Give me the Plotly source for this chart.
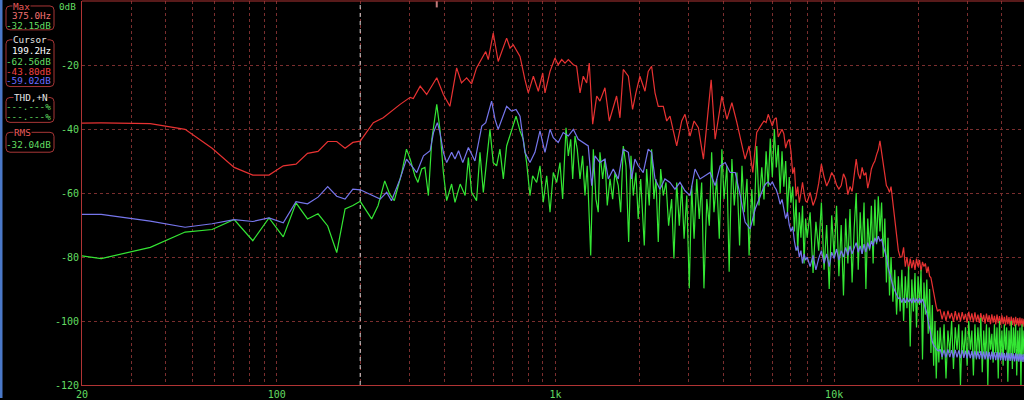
import math
import plotly.graph_objects as go

# ---------------- data ----------------
# Low/mid frequency vertices of each trace (Hz, dB)
red_lo_f = [11.72, 23.44, 35.16, 46.88, 58.59, 70.31, 82.03, 93.75, 105.5, 117.2, 128.9, 140.6, 152.3, 164.1, 175.8, 187.5, 199.2,
            222, 241, 262, 277, 301, 309, 327, 345, 375, 396, 418, 442, 460, 480, 500, 521, 562, 574, 598, 623, 668, 687, 706, 746, 777, 799, 833, 868, 900, 917,
            956, 996, 1023, 1053, 1082, 1112, 1159, 1191, 1225, 1258, 1294, 1322, 1360, 1406, 1444, 1505, 1560, 1612, 1657, 1704,
            1751, 1826, 1891, 1944, 2009, 2095, 2152, 2213, 2276, 2338, 2437, 2507, 2576, 2723, 2838, 2916, 3040, 3143, 3257, 3395,
            3492, 3620, 3741, 3844, 3955, 4122, 4296, 4477, 4626, 4790, 4952, 5105, 5275, 5419]
red_lo_db = [-38.3, -38.1, -38.3, -40.1, -46.0, -52.0, -54.4, -54.4, -51.5, -51.0, -47.6, -47.0, -43.9, -43.9, -46.0, -44.2, -43.8,
             -38.0, -36.5, -33.9, -32.3, -30.1, -30.5, -26.6, -29.2, -24.0, -29.2, -32.9, -20.9, -25.6, -24.0, -25.9, -20.9, -15.8, -18.3, -10.0, -18.9, -11.6, -14.7, -13.7, -17.3, -24.6, -28.7, -23.5, -28.2, -22.5, -28.7,
             -22.0, -17.8, -19.9, -18.3, -19.4, -18.3, -19.9, -20.4, -28.7, -23.5, -25.6, -19.4, -38.5, -29.7, -31.3, -27.1, -37.5, -33.4, -29.7, -36.5,
             -21.4, -23.5, -33.9, -28.7, -23.5, -28.2, -22.0, -20.4, -28.7, -32.9, -32.9, -37.5, -36.0, -45.3, -37.5, -35.4, -42.2, -37.5, -39.6, -49.4,
             -38.0, -24.6, -43.2, -36.0, -29.7, -37.0, -31.8, -38.0, -43.2, -49.4, -45.3, -53.6, -41.1, -39.1]

blue_lo_f = [11.72, 23.44, 35.16, 46.88, 58.59, 70.31, 82.03, 93.75, 105.5, 117.2, 128.9, 140.6, 152.3, 164.1, 175.8, 187.5, 199.2,
             216, 235, 248, 258, 277, 292, 318, 336, 355, 365, 377, 385, 396, 407, 424, 436, 449, 465, 487, 514,
             544, 562, 590, 607, 623, 650, 668, 696, 722, 746, 777, 810, 844, 880, 917,
             956, 982, 1023, 1066, 1112, 1159, 1207, 1258, 1311, 1349, 1386, 1444, 1505, 1547, 1612, 1680, 1751, 1826, 1876, 1928,
             1981, 2065, 2152, 2213, 2276, 2370, 2470, 2576, 2684, 2798, 2916, 3040, 3168, 3302, 3442, 3588, 3741, 3899, 4065, 4237,
             4417, 4604, 4790, 4996, 5208, 5419]
blue_lo_db = [-66.5, -66.7, -68.8, -70.7, -69.6, -68.3, -68.9, -67.8, -69.3, -62.7, -63.4, -61.3, -58.0, -61.0, -61.9, -58.8, -59.0,
              -60.3, -61.9, -59.8, -62.4, -55.6, -49.4, -53.6, -48.4, -46.8, -41.1, -38.0, -41.1, -47.3, -50.5, -47.3, -49.4, -46.8, -50.5, -45.8, -50.0,
              -39.1, -38.0, -31.3, -37.0, -40.1, -35.4, -32.9, -34.4, -33.9, -36.0, -47.3, -50.5, -47.3, -40.6, -47.3,
              -40.1, -42.7, -44.2, -41.1, -42.2, -40.1, -43.2, -44.2, -45.3, -57.7, -48.4, -50.5, -49.4, -55.6, -52.5, -55.6, -46.3, -47.3, -55.6, -49.4,
              -51.5, -53.6, -46.3, -47.3, -55.6, -58.8, -55.6, -56.7, -58.8, -56.7, -59.3, -60.8, -52.5, -55.6, -54.6, -53.6, -57.7, -51.5, -50.5, -53.6,
              -53.6, -60.8, -69.1, -71.2, -65.0, -60.8]

green_lo_f = [11.72, 23.44, 35.16, 46.88, 58.59, 70.31, 82.03, 93.75, 105.5, 117.2, 128.9, 140.6, 152.3, 164.1, 175.8, 187.5, 199.2,
              219, 231, 244, 254, 264, 281, 292, 301, 313, 321, 331, 340, 350, 360, 375, 385, 396, 407, 424, 436,
              455, 474, 487, 500, 521, 536, 551, 567, 582, 598, 615, 632, 650, 668, 687, 706, 722, 746, 766, 788,
              810, 828, 856, 880, 904, 930, 956, 982, 1010, 1038,
              1061, 1091, 1112, 1134, 1153, 1175, 1197, 1225, 1251, 1276, 1300, 1338, 1367, 1397, 1424, 1444, 1477, 1505, 1534, 1569,
              1604, 1635, 1680, 1714, 1751, 1791, 1831, 1866, 1902, 1944, 1981, 2022, 2083, 2124, 2170, 2213, 2256, 2294, 2338, 2385,
              2437, 2492, 2547, 2611, 2661, 2723, 2782, 2838, 2894, 2959, 3021, 3082, 3143, 3213, 3281, 3347, 3410, 3492, 3565, 3634,
              3704, 3790, 3871, 3955, 4025, 4122, 4200, 4296, 4381, 4477, 4578, 4669, 4758, 4867, 4952, 5063, 5155, 5275, 5372]
green_lo_db = [-76.7, -80.5, -77.0, -72.2, -71.4, -68.3, -74.9, -67.8, -73.7, -63.1, -68.1, -66.5, -70.3, -78.6, -65.0, -63.9, -62.6,
               -68.1, -63.9, -56.2, -60.3, -62.4, -53.6, -46.3, -49.4, -54.6, -56.7, -52.5, -52.0, -60.8, -43.2, -32.3, -40.1, -53.6, -62.4, -57.2, -62.9,
               -57.2, -60.8, -48.9, -59.8, -62.4, -47.3, -59.8, -49.4, -40.1, -50.5, -51.5, -46.3, -55.6, -45.3, -42.2, -39.1, -36.0, -40.6, -43.2, -50.5,
               -60.8, -54.6, -56.7, -51.5, -62.9, -54.6, -66.0, -53.6, -56.7, -50.5,
               -61.9, -39.6, -48.4, -43.2, -55.6, -42.2, -46.3, -55.6, -48.4, -60.8, -51.5, -79.5, -46.3, -61.9, -66.0, -47.3, -55.6, -49.4, -63.9, -55.6,
               -61.9, -53.6, -57.7, -66.0, -45.3, -51.5, -75.3, -48.4, -60.8, -53.6, -68.1, -55.6, -76.4, -52.5, -63.9, -46.3, -61.9, -55.6, -75.3, -52.5,
               -60.8, -56.7, -70.2, -61.9, -80.5, -56.7, -70.2, -57.7, -74.3, -60.8, -89.8, -57.7, -74.3, -55.6, -68.1, -56.7, -89.8, -61.9, -70.2, -47.3,
               -66.0, -55.6, -74.3, -46.3, -61.9, -51.5, -84.6, -49.4, -63.9, -53.6, -76.4, -51.5, -66.0, -55.6, -79.5, -58.8, -70.2, -45.3, -63.9]

# High frequency readings, shared frequency list (Hz)
freq_hi = [5500, 5600, 5700, 5800, 5900, 6000, 6100, 6200, 6300, 6400, 6500, 6600, 6700, 6800, 6900, 7000, 7100, 7200, 7300, 7400,
           7500, 7600, 7700, 7800, 7900,
           8000, 8200, 8400, 8600, 8800, 9000, 9200, 9400, 9600, 9800, 10000, 10200, 10400, 10600, 10800, 11000, 11200, 11400, 11600, 11800,
           12000, 12200, 12400, 12600, 12800, 13000, 13200, 13400, 13600, 13800, 14000, 14200, 14400, 14600, 14800, 15000, 15200, 15400, 15600, 15800,
           16000, 16250, 16500, 16750, 17000, 17250, 17500, 17750, 18000, 18250, 18500, 18750, 19000, 19250, 19500, 19750,
           20000, 20250, 20500, 20750, 21000, 21250, 21500, 21750, 22000, 22250, 22500, 22750, 23000, 23250, 23500, 23750,
           24000, 24400, 24800, 25200, 25600, 26000, 26400, 26800, 27200, 27600, 28000, 28400, 28800, 29200, 29600, 30000,
           30400, 30800, 31200, 31600, 32000, 32400, 32800, 33200, 33600, 34000, 34400, 34800, 35200, 35600, 36000, 36400,
           36800, 37200, 37600, 38000, 38400, 38800, 39200, 39600, 40000, 40400, 40800, 41200, 41600, 42000, 42400, 42800,
           43200, 43600, 44000, 44400, 44800, 45200, 45600, 46000, 46400, 46800, 47200, 47600, 48000]
red_hi = [-38.5, -37.5, -38.0, -35.4, -37.0, -39.1, -37.0, -36.5, -42.5, -41.0, -40.1, -41.5, -46.0, -44.0, -43.2, -47.0, -54.0, -52.0, -61.0, -58.0,
          -63.0, -60.0, -56.7, -60.0, -62.5,
          -62.9, -59.8, -63.9, -61.5, -57.0, -51.0, -55.0, -57.8, -56.0, -53.6, -55.0, -57.5, -58.8, -57.7, -54.0, -55.6, -60.5, -58.0, -59.5, -55.0,
          -49.4, -54.0, -55.6, -52.0, -54.5, -53.6, -58.5, -56.0, -52.5, -51.0, -50.0, -48.0, -46.5, -43.7, -47.0, -51.5, -54.0, -57.7, -58.5, -59.8,
          -58.0, -63.0, -68.0, -74.0, -78.0, -80.0, -80.0, -77.0, -83.0, -80.0, -84.0, -80.5, -83.5, -81.0, -84.0, -80.5,
          -83.0, -81.0, -84.5, -81.5, -83.0, -82.0, -85.0, -83.0, -86.0, -86.5, -89.0, -91.0, -94.0, -95.5, -97.0, -96.5,
          -96.5, -99.5, -97.0, -100.0, -96.8, -99.2, -97.5, -100.3, -96.9, -99.8, -97.4, -100.1, -97.2, -99.6, -97.8, -100.5,
          -97.1, -99.9, -97.6, -100.4, -97.3, -100.2, -98.0, -100.6, -97.5, -100.0, -98.1, -100.8, -97.7, -100.3, -98.2, -101.0,
          -97.9, -100.5, -98.4, -101.1, -98.0, -100.7, -98.5, -101.2, -98.2, -100.9, -98.7, -101.4, -98.3, -101.0, -98.8, -101.5,
          -98.6, -101.2, -99.0, -101.6, -98.7, -101.3, -99.1, -101.7, -98.9, -101.4, -99.2, -101.8, -99.3]
blue_hi = [-59.5, -58.0, -57.0, -56.5, -57.5, -56.5, -58.0, -59.0, -61.0, -63.5, -62.0, -65.0, -68.0, -66.0, -70.0, -72.0, -70.5, -75.0, -78.0, -76.5,
           -80.0, -78.0, -82.0, -79.0, -81.0,
           -80.0, -83.0, -79.5, -84.0, -80.5, -78.0, -82.0, -79.0, -83.0, -78.5, -80.5, -77.5, -81.0, -78.0, -80.0, -77.0, -79.5, -76.5, -79.0, -77.5,
           -75.5, -78.5, -76.5, -79.0, -76.0, -78.5, -75.5, -77.5, -75.0, -76.5, -74.0, -75.5, -73.5, -75.0, -74.5, -76.5, -78.0, -80.0, -83.0, -85.0,
           -87.0, -89.0, -90.5, -92.0, -93.0, -92.8, -94.2, -92.9, -94.3, -92.7, -94.1, -93.0, -94.4, -92.8, -94.2, -93.0,
           -94.3, -92.9, -94.4, -93.1, -94.6, -95.5, -97.5, -100.0, -102.5, -104.5, -106.5, -107.5, -108.3, -108.8, -109.2, -109.4,
           -108.8, -111.2, -109.0, -111.4, -108.9, -111.3, -109.1, -111.5, -109.0, -111.4, -109.2, -111.6, -109.1, -111.5, -109.3, -111.7,
           -109.2, -111.6, -109.4, -111.8, -109.3, -111.7, -109.5, -111.9, -109.4, -111.8, -109.6, -112.0, -109.5, -111.9, -109.7, -112.1,
           -109.6, -112.0, -109.8, -112.2, -109.7, -112.1, -109.9, -112.3, -109.8, -112.2, -110.0, -112.4, -109.9, -112.3, -110.1, -112.5,
           -110.0, -112.4, -110.2, -112.6, -110.1, -112.5, -110.3, -112.7, -110.2, -112.6, -110.4, -112.8, -110.3]
green_hi = [-52.0, -62.0, -47.0, -58.0, -43.0, -55.0, -40.0, -52.0, -45.0, -60.0, -47.0, -58.0, -50.0, -66.0, -55.0, -63.0, -58.0, -72.0, -62.0, -78.0,
            -66.0, -74.0, -64.0, -82.0, -68.0,
            -74.0, -66.0, -85.0, -69.0, -78.0, -63.0, -84.0, -70.0, -90.0, -67.0, -80.0, -64.0, -86.0, -70.0, -92.0, -68.0, -82.0, -65.0, -88.0, -71.0,
            -60.0, -84.0, -66.0, -79.0, -63.0, -90.0, -68.0, -78.0, -64.0, -82.0, -62.0, -76.0, -61.0, -72.0, -63.0, -80.0, -68.0, -88.0, -74.0, -92.0,
            -80.0, -94.0, -84.0, -98.0, -86.0, -97.0, -84.0, -100.0, -86.0, -96.0, -83.0, -108.0, -87.0, -97.0, -85.0, -102.0,
            -86.0, -95.0, -84.0, -112.0, -88.0, -98.0, -87.0, -104.0, -90.0, -110.0, -95.0, -114.0, -100.0, -118.0, -103.0, -113.0,
            -102.0, -112.0, -101.0, -118.0, -103.0, -110.0, -100.0, -115.0, -102.0, -109.0, -101.0, -120.0, -103.0, -111.0, -102.0, -114.0,
            -100.0, -109.0, -103.0, -117.0, -101.0, -112.0, -102.0, -110.0, -99.0, -116.0, -103.0, -111.0, -101.0, -120.0, -102.0, -109.0,
            -104.0, -113.0, -101.0, -110.0, -102.0, -118.0, -100.0, -111.0, -103.0, -114.0, -101.0, -109.0, -102.0, -119.0, -103.0, -111.0,
            -100.0, -115.0, -102.0, -110.0, -101.0, -117.0, -103.0, -112.0, -102.0, -120.0, -101.0, -111.0, -103.0]

# Axis ticks / grid
grid_freqs = [20, 30, 40, 50, 60, 70, 80, 90, 100, 200, 300, 400, 500, 600, 700, 800, 900,
              1000, 2000, 3000, 4000, 5000, 6000, 7000, 8000, 9000, 10000, 20000, 30000, 40000]
x_labels = {20: "20", 100: "100", 1000: "1k", 10000: "10k"}
db_ticks = [-20, -40, -60, -80, -100, -120]
db_labels = ["-20", "-40", "-60", "-80", "-100", "-120"]

cursor_freq = 199.2
max_freq = 375.0

# Side panel readouts
panel_max = ["375.0Hz", "-32.15dB"]
panel_cursor = ["199.2Hz", "-62.56dB", "-43.80dB", "-59.02dB"]
panel_thd = ["---.---%", "---.---%"]
panel_rms = ["-32.04dB"]

# ---------------- styling ----------------
W, H = 1024, 400
ML, MR, MT, MB = 82, 0, 1, 13
PW, PH = W - ML - MR, H - MT - MB

RED = "#e83232"
BLUE = "#7676ec"
GREEN = "#34e634"
TXT_GREEN = "#62dc62"
GRID = "#7a2e2e"
AXIS = "#b03434"
BOX = "#a83636"
FONT = "DejaVu Sans Mono"
FS = 9.3


def px(x):
    return (x - ML) / PW


def py(y):
    return (H - MB - y) / PH


def fit(a, b):
    n = min(len(a), len(b))
    return list(a[:n]), list(b[:n])


rf, rd = fit(red_lo_f + freq_hi, red_lo_db + red_hi)
bf, bd = fit(blue_lo_f + freq_hi, blue_lo_db + blue_hi)
gf, gd = fit(green_lo_f + freq_hi, green_lo_db + green_hi)

fig = go.Figure()

# cursor line (white dashed) and max marker
fig.add_trace(go.Scatter(x=[cursor_freq, cursor_freq], y=[-120, 0], mode="lines",
                         line=dict(color="#dcdcdc", width=1, dash="4px,4px"), hoverinfo="skip"))
fig.add_trace(go.Scatter(x=[max_freq, max_freq], y=[0, -2], mode="lines",
                         line=dict(color="#c07c7c", width=2), hoverinfo="skip"))

fig.add_trace(go.Scatter(x=rf, y=rd, mode="lines", line=dict(color=RED, width=1.2), hoverinfo="skip"))
fig.add_trace(go.Scatter(x=gf, y=gd, mode="lines", line=dict(color=GREEN, width=1.2), hoverinfo="skip"))
fig.add_trace(go.Scatter(x=bf, y=bd, mode="lines", line=dict(color=BLUE, width=1.2), hoverinfo="skip"))

fig.update_layout(
    width=W, height=H, autosize=False,
    margin=dict(l=ML, r=MR, t=MT, b=MB, pad=0),
    paper_bgcolor="black", plot_bgcolor="black",
    showlegend=False,
    font=dict(family=FONT, size=FS, color=TXT_GREEN),
    xaxis=dict(type="log", range=[math.log10(20), math.log10(48000)],
               tickvals=grid_freqs, ticktext=[x_labels.get(f, "") for f in grid_freqs],
               showgrid=True, gridcolor=GRID, gridwidth=1, griddash="3px,3px",
               showline=True, linecolor=AXIS, linewidth=1, ticks="", zeroline=False,
               tickfont=dict(family=FONT, size=10, color=TXT_GREEN), fixedrange=True),
    yaxis=dict(range=[-120, 0], tickvals=db_ticks, ticktext=db_labels,
               showgrid=True, gridcolor=GRID, gridwidth=1, griddash="3px,3px",
               showline=True, linecolor=AXIS, linewidth=1, ticks="", zeroline=False,
               tickfont=dict(family=FONT, size=10, color=TXT_GREEN), fixedrange=True),
)

shapes = []
# top border line
shapes.append(dict(type="line", xref="paper", yref="paper", x0=0, x1=1, y0=1, y1=1,
                   line=dict(color=AXIS, width=1)))
# blue strip at far left
shapes.append(dict(type="rect", xref="paper", yref="paper", x0=px(0), x1=px(2.5), y0=py(400), y1=py(0),
                   line=dict(width=0), fillcolor="#4a78c8"))


def rounded(x0, y0, x1, y1, r=4):
    X0, X1 = px(x0), px(x1)
    Y0, Y1 = py(y0), py(y1)
    rx, ry = r / PW, r / PH
    return (f"M {X0 + rx},{Y0} L {X1 - rx},{Y0} Q {X1},{Y0} {X1},{Y0 - ry} "
            f"L {X1},{Y1 + ry} Q {X1},{Y1} {X1 - rx},{Y1} L {X0 + rx},{Y1} "
            f"Q {X0},{Y1} {X0},{Y1 + ry} L {X0},{Y0 - ry} Q {X0},{Y0} {X0 + rx},{Y0} Z")


for (y0, y1) in [(6, 30), (40, 87), (98, 123), (133, 153)]:
    shapes.append(dict(type="path", xref="paper", yref="paper", path=rounded(6, y0, 54, y1),
                       line=dict(color=BOX, width=1)))
fig.update_layout(shapes=shapes)

ann = []


def text(t, x, y, color, anchor="right", bg=None):
    d = dict(text=t, x=px(x), y=py(y), xref="paper", yref="paper", showarrow=False,
             xanchor=anchor, yanchor="middle", font=dict(family=FONT, size=FS, color=color))
    if bg:
        d.update(bgcolor=bg, borderpad=0)
    ann.append(d)


text("0dB", 78, 6.5, TXT_GREEN)
text("Max", 12, 6.5, "#e85a5a", "left", "black")
text(panel_max[0], 53, 16, "#f07070")
text(panel_max[1], 53, 26, TXT_GREEN)
text("Cursor", 12, 40, "#e6e6e6", "left", "black")
text(panel_cursor[0], 53, 51, "#ffffff")
text(panel_cursor[1], 53, 61.5, TXT_GREEN)
text(panel_cursor[2], 53, 71.5, "#f04040")
text(panel_cursor[3], 53, 81, "#6a6aff")
text("THD,+N", 13, 98, "#e6e6e6", "left", "black")
text(panel_thd[0], 53, 107.5, TXT_GREEN)
text(panel_thd[1], 53, 117.5, TXT_GREEN)
text("RMS", 13, 133, "#e85a5a", "left", "black")
text(panel_rms[0], 53, 145, TXT_GREEN)
fig.update_layout(annotations=ann)

fig.write_html("out.html", include_plotlyjs=True, config={"displayModeBar": False},
               post_script="document.body.style.margin='0';document.body.style.padding='0';")
